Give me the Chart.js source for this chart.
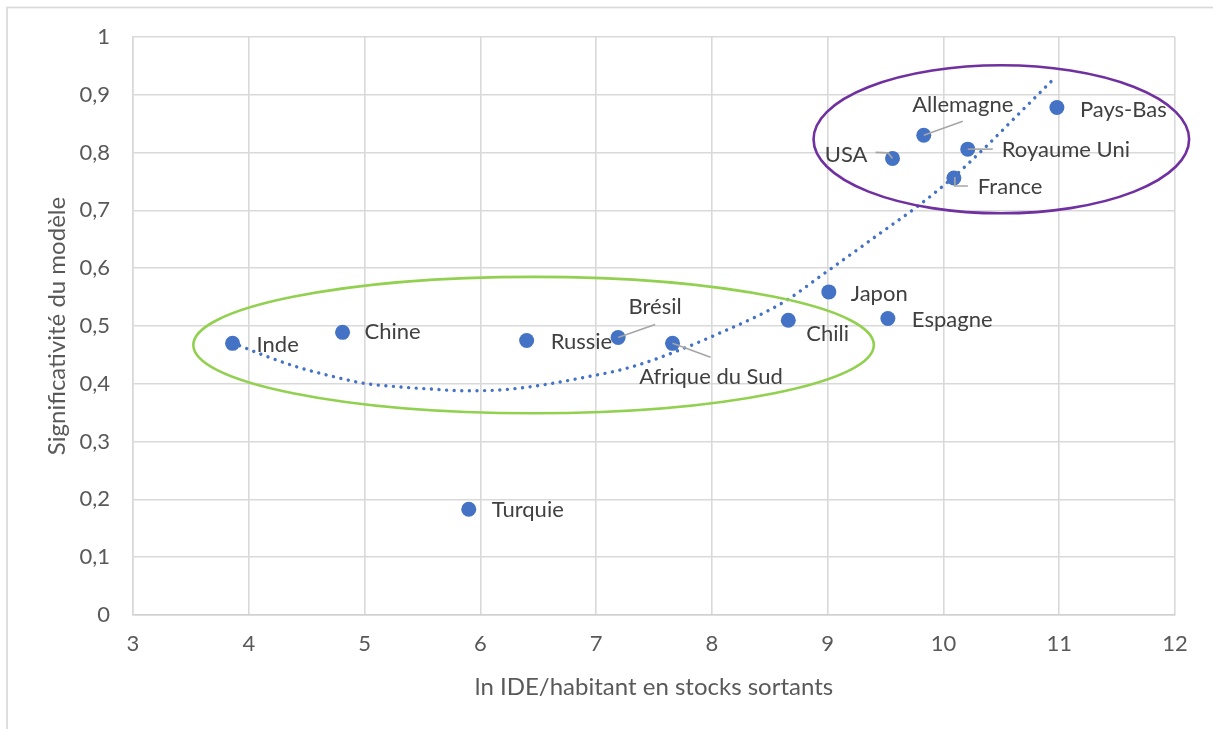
<!DOCTYPE html>
<html>
<head>
<meta charset="utf-8">
<script src="https://cdn.jsdelivr.net/npm/chart.js@4.4.1/dist/chart.umd.min.js"></script>
<style>
html,body{margin:0;padding:0;background:#ffffff;}
#wrap{position:relative;width:1213px;height:729px;}
</style>
</head>
<body>
<div id="wrap"><canvas id="c" width="1213" height="729"></canvas></div>
<script>
// ---------- DATA ----------
const countries = ['Inde','Chine','Turquie','Russie','Brésil','Afrique du Sud','Chili','Japon','Espagne','USA','Allemagne','Royaume Uni','France','Pays-Bas'];
const xValues   = [3.86, 4.81, 5.90, 6.40, 7.19, 7.66, 8.66, 9.01, 9.52, 9.56, 9.83, 10.21, 10.09, 10.98];
const yValues   = [0.470, 0.489, 0.183, 0.475, 0.480, 0.470, 0.510, 0.559, 0.513, 0.790, 0.830, 0.806, 0.756, 0.878];

// dotted trend curve
const trendX = [3.86, 4.12, 4.42, 4.70, 4.99, 5.28, 5.57, 5.85, 6.14, 6.40, 6.63, 6.92, 7.21, 7.49, 7.79, 8.07, 8.36, 8.65, 8.93, 9.52, 9.77, 10.06, 10.34, 10.64, 10.95];
const trendY = [0.471, 0.450, 0.429, 0.414, 0.401, 0.395, 0.391, 0.388, 0.389, 0.394, 0.401, 0.412, 0.424, 0.441, 0.464, 0.488, 0.514, 0.545, 0.585, 0.670, 0.706, 0.753, 0.805, 0.865, 0.927];

const xTickLabels = ['3','4','5','6','7','8','9','10','11','12'];
const yTickLabels = ['0','0,1','0,2','0,3','0,4','0,5','0,6','0,7','0,8','0,9','1'];
const xAxisTitle = 'ln IDE/habitant en stocks sortants';
const yAxisTitle = 'Significativité du modèle';

// ---------- STYLE / LAYOUT ----------
const FONT = 'Lato';
const labelLayout = {
  'Inde':           {dx:24, dy:2},
  'Chine':          {dx:22, dy:0},
  'Turquie':        {dx:23, dy:1},
  'Russie':         {dx:24, dy:1},
  'Brésil':         {dx:37, dy:-31, align:'center', leader:[[0,0],[37,-13]]},
  'Afrique du Sud': {dx:38.5, dy:34, align:'center', leader:[[0,0],[38,14]]},
  'Chili':          {dx:18, dy:14},
  'Japon':          {dx:22, dy:2},
  'Espagne':        {dx:24, dy:1},
  'USA':            {dx:-25, dy:-3, align:'right', leader:[[-17,-6],[-4.5,-5.5],[0,0]]},
  'Allemagne':      {dx:39, dy:-30, align:'center', leader:[[0,0],[39,-14]]},
  'Royaume Uni':    {dx:34, dy:1, leader:[[0,0],[25,0]]},
  'France':         {dx:24, dy:9, leader:[[1,-1],[1,8],[14,8]]},
  'Pays-Bas':       {dx:23, dy:2}
};
// highlight ellipses, in data units
const highlightEllipses = [
  {cx:10.50, cy:0.823, rx:1.622, ry:0.128, color:'#7030A0'},
  {cx:6.46,  cy:0.467, rx:2.939, ry:0.118, color:'#92D050'}
];

const frame = {
  id:'frame',
  beforeDraw(chart){
    const c = chart.ctx;
    c.save();
    c.fillStyle = '#ffffff';
    c.fillRect(0,0,chart.width,chart.height);
    c.strokeStyle = '#d9d9d9';
    c.lineWidth = 1.7;
    c.strokeRect(7, 7.5, chart.width + 20, chart.height + 20);
    c.restore();
  }
};

const ellipses = {
  id:'ellipses',
  afterDatasetsDraw(chart){
    const c = chart.ctx, xs = chart.scales.x, ys = chart.scales.y;
    c.save();
    highlightEllipses.forEach(e => {
      const px = xs.getPixelForValue(e.cx), py = ys.getPixelForValue(e.cy);
      const rx = Math.abs(xs.getPixelForValue(e.cx + e.rx) - px);
      const ry = Math.abs(ys.getPixelForValue(e.cy + e.ry) - py);
      c.beginPath();
      c.ellipse(px, py, rx, ry, 0, 0, Math.PI*2);
      c.strokeStyle = e.color;
      c.lineWidth = 2.6;
      c.stroke();
    });
    c.restore();
  }
};

const labels = {
  id:'labels',
  afterDatasetsDraw(chart){
    const c = chart.ctx;
    const meta = chart.getDatasetMeta(1);
    c.save();
    meta.data.forEach((pt, i) => {
      const name = countries[i];
      const L = labelLayout[name] || {dx:20, dy:0};
      if (L.leader) {
        c.beginPath();
        L.leader.forEach((p, k) => {
          if (k === 0) c.moveTo(pt.x + p[0], pt.y + p[1]);
          else c.lineTo(pt.x + p[0], pt.y + p[1]);
        });
        c.strokeStyle = '#a6a6a6';
        c.lineWidth = 1.6;
        c.stroke();
      }
    });
    meta.data.forEach((pt, i) => {
      const name = countries[i];
      const L = labelLayout[name] || {dx:20, dy:0};
      c.font = '22px ' + FONT;
      c.fillStyle = '#404040';
      c.textAlign = L.align || 'left';
      c.textBaseline = 'middle';
      c.fillText(name, pt.x + L.dx, pt.y + L.dy);
    });
    c.restore();
  }
};

const tickFont = {family: FONT, size: 22, lineHeight: 1.2};
const titleFont = {family: FONT, size: 24, lineHeight: 1.2};

new Chart(document.getElementById('c'), {
  type: 'scatter',
  data: {
    datasets: [
      {
        type: 'line',
        label: 'Tendance',
        data: trendX.map((x, i) => ({x: x, y: trendY[i]})),
        showLine: true,
        borderColor: '#4472C4',
        borderWidth: 3.4,
        borderDash: [0.01, 7.6],
        borderCapStyle: 'round',
        pointRadius: 0,
        fill: false,
        cubicInterpolationMode: 'monotone',
        order: 2
      },
      {
        label: 'Pays',
        data: xValues.map((x, i) => ({x: x, y: yValues[i]})),
        backgroundColor: '#4472C4',
        borderColor: '#4472C4',
        borderWidth: 0,
        pointRadius: 7.5,
        pointHoverRadius: 7.5,
        order: 1
      }
    ]
  },
  options: {
    responsive: false,
    animation: false,
    events: [],
    layout: {padding: {left: 0, top: 37, right: 38, bottom: 0}},
    plugins: {legend: {display: false}, tooltip: {enabled: false}, title: {display: false}},
    scales: {
      x: {
        type: 'linear', min: 3, max: 12,
        afterFit(s){ s.height = 114; },
        ticks: {stepSize: 1, font: tickFont, color: '#595959', padding: 16,
                callback: (v, i) => xTickLabels[i]},
        grid: {color: '#d9d9d9', lineWidth: 1.6, drawTicks: false},
        border: {color: '#d0d0d0', width: 1.6},
        title: {display: true, text: xAxisTitle, font: titleFont, color: '#595959', padding: {top: 0, bottom: 27}}
      },
      y: {
        type: 'linear', min: 0, max: 1,
        afterFit(s){ s.width = 133; },
        ticks: {stepSize: 0.1, font: tickFont, color: '#595959', padding: 23,
                callback: (v, i) => yTickLabels[i]},
        grid: {color: '#d9d9d9', lineWidth: 1.6, drawTicks: false},
        border: {color: '#d9d9d9', width: 1.6},
        title: {display: true, text: yAxisTitle, font: titleFont, color: '#595959', padding: {top: 43, bottom: 0}}
      }
    }
  },
  plugins: [frame, ellipses, labels]
});
</script>
</body>
</html>
